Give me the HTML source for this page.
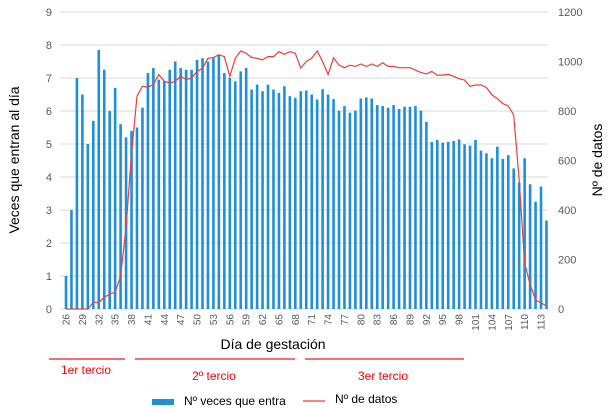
<!DOCTYPE html>
<html><head><meta charset="utf-8"><style>
body{margin:0;background:#fff;}
svg{display:block;font-family:"Liberation Sans",sans-serif;}
</style></head><body>
<svg id="c" width="610" height="410" xmlns="http://www.w3.org/2000/svg"></svg>
<script>
const bars=[1.0,3.0,7.0,6.5,5.0,5.7,7.85,7.25,6.0,6.7,5.6,5.2,5.4,5.5,6.1,7.15,7.3,6.95,6.9,7.25,7.5,7.3,7.25,7.25,7.55,7.6,7.5,7.6,7.7,7.15,7.0,6.9,7.2,7.3,6.65,6.8,6.6,6.8,6.65,6.55,6.75,6.45,6.4,6.6,
6.62,6.5,6.35,6.66,6.5,6.36,6.01,6.15,5.95,6.01,6.38,6.41,6.38,6.18,6.15,6.1,6.18,6.06,6.13,6.13,6.15,6.01,5.67,5.06,5.12,5.04,5.06,5.09,5.14,4.99,4.95,5.12,4.8,4.72,4.57,4.92,4.55,4.66,4.26,3.83,4.57,3.78,3.25,3.71,2.68];
const line=[0,0,0,0,0,27,27,47,60,67,133,333,627,860,900,896,907,947,920,913,920,940,927,933,960,973,1013,1016,1027,1020,940,1013,1043,1033,1016,1013,1007,1020,1020,1040,1029,1040,1033,973,1000,1013,1043,1000,947,1015,985,975,985,980,990,980,990,980,995,980,980,975,975,975,965,955,950,960,945,945,948,940,930,925,900,905,905,895,865,850,830,820,784,520,186,100,36,25,12];
const X=d=>66+(d-26)*5.46, Y0=309, s=33;
let h='';
for(let i=0;i<=9;i++){const y=Y0-i*s;h+=`<line x1="60" x2="548" y1="${y}" y2="${y}" stroke="#d9d9d9" stroke-width="1"/>`;
h+=`<text x="52" y="${y+4}" font-size="11" fill="#595959" text-anchor="end">${i}</text>`;}
for(let i=0;i<=6;i++){const y=Y0-i*49.5;h+=`<text x="558" y="${y+4}" font-size="11" fill="#595959">${i*200}</text>`;}
bars.forEach((v,i)=>{const x=X(26+i);h+=`<rect x="${x-1.3}" y="${Y0-v*s}" width="2.6" height="${v*s}" fill="#1f8fd8"/>`;
if(i%3==0)h+=`<text transform="translate(${x+3.5},314) rotate(-90)" font-size="10" fill="#595959" text-anchor="end">${26+i}</text>`;});
h+=`<polyline fill="none" stroke="#e8413b" stroke-width="1.2" points="${line.map((v,i)=>X(26+i).toFixed(1)+','+(Y0-v*0.2475).toFixed(1)).join(' ')}"/>`;
h+=`<text x="273" y="349" font-size="14" text-anchor="middle" fill="#000">Día de gestación</text>`;
h+=`<text transform="translate(19,160) rotate(-90)" font-size="14" text-anchor="middle">Veces que entran al día</text>`;
h+=`<text transform="translate(602,160) rotate(-90)" font-size="14" text-anchor="middle">Nº de datos</text>`;
[[49,125],[135,295],[305,464]].forEach(a=>h+=`<line x1="${a[0]}" x2="${a[1]}" y1="359" y2="359" stroke="#f04040" stroke-width="1.5"/>`);
h+=`<text x="86" y="374" font-size="12" fill="#f00" text-anchor="middle">1er tercio</text>`;
h+=`<text x="214" y="380" font-size="12" fill="#f00" text-anchor="middle">2º tercio</text>`;
h+=`<text x="383" y="380" font-size="12" fill="#f00" text-anchor="middle">3er tercio</text>`;
h+=`<rect x="152" y="399" width="22" height="6" fill="#1f8fd8"/><text x="184" y="405" font-size="12">Nº veces que entra</text>`;
h+=`<line x1="303" x2="325" y1="401" y2="401" stroke="#e8413b" stroke-width="1.2"/><text x="335" y="403" font-size="12">Nº de datos</text>`;
document.getElementById('c').innerHTML=h;
</script>
</body></html>
